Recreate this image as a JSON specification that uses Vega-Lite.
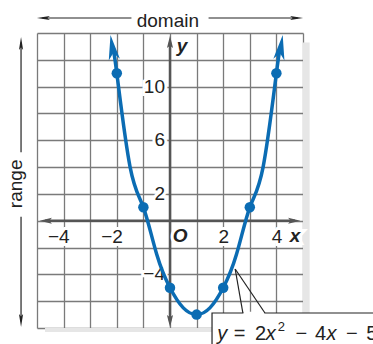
{
  "$schema": "https://vega.github.io/schema/vega-lite/v6.json",
  "width": 266,
  "height": 295,
  "autosize": {"type": "none"},
  "padding": {"left": 37, "top": 33, "right": 70, "bottom": 16},
  "background": "white",
  "config": {"view": {"stroke": null}, "font": "Liberation Sans"},
  "datasets": {
    "curve": [
      {"x": -2.14, "y": 12.7}, {"x": -2, "y": 11}, {"x": -1.5, "y": 4}, {"x": -1, "y": 1},
      {"x": -0.5, "y": -2.5}, {"x": 0, "y": -5}, {"x": 0.5, "y": -6.5}, {"x": 1, "y": -7},
      {"x": 1.5, "y": -6.5}, {"x": 2, "y": -5}, {"x": 2.5, "y": -2.5}, {"x": 3, "y": 1},
      {"x": 3.5, "y": 4}, {"x": 4, "y": 11}, {"x": 4.14, "y": 12.7}
    ],
    "points": [
      {"x": -2, "y": 11}, {"x": -1, "y": 1}, {"x": 0, "y": -5}, {"x": 1, "y": -7},
      {"x": 2, "y": -5}, {"x": 3, "y": 1}, {"x": 4, "y": 11}
    ],
    "arrows": [
      {"x": -2.165, "y": 12.93, "kind": "curveL"},
      {"x": 4.165, "y": 12.93, "kind": "curveR"},
      {"x": 0, "y": 13.33, "kind": "axisUp"},
      {"x": 0, "y": -7.48, "kind": "axisDown"},
      {"x": -4.67, "y": 0, "kind": "axisLeft"},
      {"x": 4.67, "y": 0, "kind": "axisRight"},
      {"x": -4.76, "y": 15.12, "kind": "guideLeft"},
      {"x": 4.76, "y": 15.12, "kind": "guideRight"},
      {"x": -5.6, "y": 13.22, "kind": "guideUp"},
      {"x": -5.6, "y": -7.44, "kind": "guideDown"}
    ],
    "shadows": [
      {"x": 5, "x2": 5.25, "y": 13.3, "y2": -8.3},
      {"x": -4.7, "x2": 5.25, "y": -8, "y2": -8.3}
    ],
    "axisLines": [
      {"x": 0, "y": -7.5, "x2": 0, "y2": 13.3},
      {"x": -4.7, "y": 0, "x2": 4.7, "y2": 0}
    ],
    "guideLines": [
      {"x": -4.8, "y": 15.12, "x2": -1.45, "y2": 15.12},
      {"x": 1.45, "y": 15.12, "x2": 4.8, "y2": 15.12},
      {"x": -5.6, "y": 13.3, "x2": -5.6, "y2": 5.1},
      {"x": -5.6, "y": 0.3, "x2": -5.6, "y2": -7.5}
    ],
    "guideText": [
      {"x": -0.08, "y": 14.45, "t": "domain", "a": 0},
      {"x": -5.58, "y": 2.75, "t": "range", "a": 270}
    ],
    "ylabels": [
      {"x": 0, "y": 10, "t": "10"}, {"x": 0, "y": 6, "t": "6"}, {"x": 0, "y": 2, "t": "2"}, {"x": 0, "y": -4, "t": "−4"}
    ],
    "xlabels": [
      {"x": -4, "y": 0, "t": "−4"}, {"x": -2, "y": 0, "t": "−2"}, {"x": 2, "y": 0, "t": "2"}, {"x": 4, "y": 0, "t": "4"}
    ],
    "axisNames": [
      {"x": 0.38, "y": -1.14, "t": "O"},
      {"x": 4.7, "y": -1.14, "t": "x"},
      {"x": 0.45, "y": 13.0, "t": "y"}
    ],
    "box": [{"x": 1.58, "x2": 9, "y": -6.88, "y2": -10}],
    "boxGap": [{"x": 2.76, "x2": 3.55, "y": -6.88, "y2": -6.88}],
    "callout": [
      {"x": 2.45, "y": -3.6, "x2": 2.74, "y2": -6.88},
      {"x": 2.45, "y": -3.6, "x2": 3.57, "y2": -6.88}
    ],
    "eqNormal": [
      {"x": 2.4, "y": -8.9, "t": "="}, {"x": 3.2, "y": -8.9, "t": "2"},
      {"x": 4.72, "y": -8.9, "t": "−"}, {"x": 5.45, "y": -8.9, "t": "4"},
      {"x": 6.62, "y": -8.9, "t": "−"}, {"x": 7.38, "y": -8.9, "t": "5"}
    ],
    "eqItalic": [
      {"x": 1.78, "y": -8.9, "t": "y"}, {"x": 3.6, "y": -8.9, "t": "x"}, {"x": 5.88, "y": -8.9, "t": "x"}
    ],
    "eqSup": [{"x": 4.05, "y": -8.25, "t": "2"}]
  },
  "encoding": {
    "x": {
      "field": "x", "type": "quantitative",
      "scale": {"domain": [-5, 5], "nice": false, "zero": false},
      "axis": {"values": [-5, -4, -3, -2, -1, 0, 1, 2, 3, 4, 5], "grid": true, "labels": false, "ticks": false, "domain": false, "title": null, "gridColor": "#7a7a7a", "gridWidth": 1.3, "gridOpacity": 1}
    },
    "y": {
      "field": "y", "type": "quantitative",
      "scale": {"domain": [-8, 14], "nice": false, "zero": false},
      "axis": {"values": [-8, -6, -4, -2, 0, 2, 4, 6, 8, 10, 12, 14], "grid": true, "labels": false, "ticks": false, "domain": false, "title": null, "gridColor": "#7a7a7a", "gridWidth": 1.3, "gridOpacity": 1}
    }
  },
  "layer": [
    {
      "data": {"name": "shadows"},
      "mark": {"type": "rect", "fill": "#e6e6e6"},
      "encoding": {"x2": {"field": "x2"}, "y2": {"field": "y2"}}
    },
    {
      "data": {"name": "axisLines"},
      "mark": {"type": "rule", "stroke": "#555555", "strokeWidth": 2.5},
      "encoding": {"x2": {"field": "x2"}, "y2": {"field": "y2"}}
    },
    {
      "data": {"name": "arrows"},
      "transform": [{"filter": "datum.kind === 'axisUp'"}],
      "mark": {"type": "point", "shape": "M0,-1L0.5,1L0,0.6L-0.5,1Z", "filled": true, "size": 150, "color": "#555555", "opacity": 1, "angle": 0}
    },
    {
      "data": {"name": "arrows"},
      "transform": [{"filter": "datum.kind === 'axisDown'"}],
      "mark": {"type": "point", "shape": "M0,-1L0.5,1L0,0.6L-0.5,1Z", "filled": true, "size": 150, "color": "#555555", "opacity": 1, "angle": 180}
    },
    {
      "data": {"name": "arrows"},
      "transform": [{"filter": "datum.kind === 'axisLeft'"}],
      "mark": {"type": "point", "shape": "M0,-1L0.5,1L0,0.6L-0.5,1Z", "filled": true, "size": 150, "color": "#555555", "opacity": 1, "angle": 270}
    },
    {
      "data": {"name": "arrows"},
      "transform": [{"filter": "datum.kind === 'axisRight'"}],
      "mark": {"type": "point", "shape": "M0,-1L0.5,1L0,0.6L-0.5,1Z", "filled": true, "size": 150, "color": "#555555", "opacity": 1, "angle": 90}
    },
    {
      "data": {"name": "ylabels"},
      "mark": {"type": "text", "align": "right", "baseline": "middle", "dx": -5, "fontSize": 19, "fill": "white", "stroke": "white", "strokeWidth": 6},
      "encoding": {"text": {"field": "t"}}
    },
    {
      "data": {"name": "ylabels"},
      "mark": {"type": "text", "align": "right", "baseline": "middle", "dx": -5, "fontSize": 19, "fill": "#222222"},
      "encoding": {"text": {"field": "t"}}
    },
    {
      "data": {"name": "xlabels"},
      "mark": {"type": "text", "align": "right", "baseline": "middle", "dx": 6, "dy": 16, "fontSize": 19, "fill": "white", "stroke": "white", "strokeWidth": 6},
      "encoding": {"text": {"field": "t"}}
    },
    {
      "data": {"name": "xlabels"},
      "mark": {"type": "text", "align": "right", "baseline": "middle", "dx": 6, "dy": 16, "fontSize": 19, "fill": "#222222"},
      "encoding": {"text": {"field": "t"}}
    },
    {
      "data": {"name": "axisNames"},
      "mark": {"type": "text", "align": "center", "baseline": "middle", "fontSize": 19, "fontWeight": "bold", "fontStyle": "italic", "fill": "white", "stroke": "white", "strokeWidth": 6},
      "encoding": {"text": {"field": "t"}}
    },
    {
      "data": {"name": "axisNames"},
      "mark": {"type": "text", "align": "center", "baseline": "middle", "fontSize": 19, "fontWeight": "bold", "fontStyle": "italic", "fill": "#222222"},
      "encoding": {"text": {"field": "t"}}
    },
    {
      "data": {"name": "curve"},
      "mark": {"type": "line", "interpolate": "natural", "color": "#0b6cb3", "strokeWidth": 3.5}
    },
    {
      "data": {"name": "points"},
      "mark": {"type": "circle", "size": 110, "color": "#0b6cb3", "opacity": 1}
    },
    {
      "data": {"name": "arrows"},
      "transform": [{"filter": "datum.kind === 'curveL'"}],
      "mark": {"type": "point", "shape": "M0,-1L0.45,1L0,0.45L-0.45,1Z", "filled": true, "size": 625, "color": "#0b6cb3", "opacity": 1, "angle": 351.2}
    },
    {
      "data": {"name": "arrows"},
      "transform": [{"filter": "datum.kind === 'curveR'"}],
      "mark": {"type": "point", "shape": "M0,-1L0.45,1L0,0.45L-0.45,1Z", "filled": true, "size": 625, "color": "#0b6cb3", "opacity": 1, "angle": 8.8}
    },
    {
      "data": {"name": "box"},
      "mark": {"type": "rect", "fill": "white", "stroke": "#222222", "strokeWidth": 1.2},
      "encoding": {"x2": {"field": "x2"}, "y2": {"field": "y2"}}
    },
    {
      "data": {"name": "boxGap"},
      "mark": {"type": "rule", "stroke": "white", "strokeWidth": 2.5},
      "encoding": {"x2": {"field": "x2"}, "y2": {"field": "y2"}}
    },
    {
      "data": {"name": "callout"},
      "mark": {"type": "rule", "stroke": "#222222", "strokeWidth": 1.2},
      "encoding": {"x2": {"field": "x2"}, "y2": {"field": "y2"}}
    },
    {
      "data": {"name": "eqNormal"},
      "mark": {"type": "text", "align": "left", "baseline": "alphabetic", "fontSize": 20, "fill": "#222222"},
      "encoding": {"text": {"field": "t"}}
    },
    {
      "data": {"name": "eqItalic"},
      "mark": {"type": "text", "align": "left", "baseline": "alphabetic", "fontSize": 20, "fontStyle": "italic", "fill": "#222222"},
      "encoding": {"text": {"field": "t"}}
    },
    {
      "data": {"name": "eqSup"},
      "mark": {"type": "text", "align": "left", "baseline": "alphabetic", "fontSize": 13, "fill": "#222222"},
      "encoding": {"text": {"field": "t"}}
    },
    {
      "data": {"name": "guideLines"},
      "mark": {"type": "rule", "stroke": "#222222", "strokeWidth": 1.2},
      "encoding": {"x2": {"field": "x2"}, "y2": {"field": "y2"}}
    },
    {
      "data": {"name": "arrows"},
      "transform": [{"filter": "datum.kind === 'guideLeft'"}],
      "mark": {"type": "point", "shape": "M0,-1L0.32,1L0,0.6L-0.32,1Z", "filled": true, "size": 169, "color": "#222222", "opacity": 1, "angle": 270}
    },
    {
      "data": {"name": "arrows"},
      "transform": [{"filter": "datum.kind === 'guideRight'"}],
      "mark": {"type": "point", "shape": "M0,-1L0.32,1L0,0.6L-0.32,1Z", "filled": true, "size": 169, "color": "#222222", "opacity": 1, "angle": 90}
    },
    {
      "data": {"name": "arrows"},
      "transform": [{"filter": "datum.kind === 'guideUp'"}],
      "mark": {"type": "point", "shape": "M0,-1L0.32,1L0,0.6L-0.32,1Z", "filled": true, "size": 169, "color": "#222222", "opacity": 1, "angle": 0}
    },
    {
      "data": {"name": "arrows"},
      "transform": [{"filter": "datum.kind === 'guideDown'"}],
      "mark": {"type": "point", "shape": "M0,-1L0.32,1L0,0.6L-0.32,1Z", "filled": true, "size": 169, "color": "#222222", "opacity": 1, "angle": 180}
    },
    {
      "data": {"name": "guideText"},
      "mark": {"type": "text", "align": "center", "baseline": "alphabetic", "fontSize": 19, "fill": "#222222"},
      "encoding": {"text": {"field": "t"}, "angle": {"field": "a", "type": "quantitative", "scale": null}}
    }
  ]
}
